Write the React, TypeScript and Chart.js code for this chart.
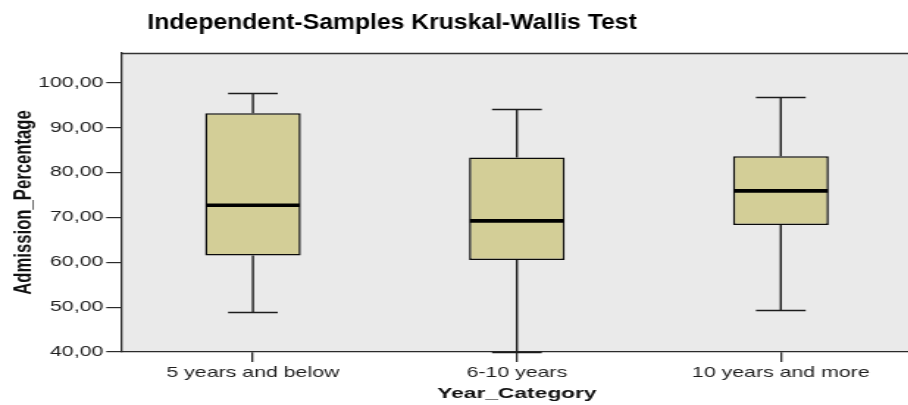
import React, { useEffect, useRef } from 'react';
import { Chart, registerables } from 'chart.js';

Chart.register(...registerables);

// ---- data ----
const categories = ['5 years and below', '6-10 years', '10 years and more'];
const minValues = [49.0, 40.0, 49.3];
const q1Values = [61.5, 60.5, 68.3];
const medianValues = [72.7, 69.2, 75.9];
const q3Values = [93.2, 83.3, 83.6];
const maxValues = [97.7, 94.1, 96.7];
const yTickValues = [40, 50, 60, 70, 80, 90, 100];
const yMin = 40;
const yMax = 106.6;
const chartTitle = 'Independent-Samples Kruskal-Wallis Test';
const xTitle = 'Year_Category';
const yTitle = 'Admission_Percentage';

// ---- layout / style ----
const STRETCH = 1.47; // the reference is horizontally stretched
const VIEW_W = 920;
const VIEW_H = 405;
const LOGICAL_W = Math.round(VIEW_W / STRETCH);
const FONT = "'Liberation Sans', Arial, Helvetica, sans-serif";

const boxPlotPlugin = {
  id: 'boxPlotExtras',
  beforeDraw(chart: any) {
    const { ctx, chartArea } = chart;
    ctx.save();
    ctx.fillStyle = '#eaeaea';
    ctx.fillRect(chartArea.left, chartArea.top, chartArea.right - chartArea.left, chartArea.bottom - chartArea.top);
    ctx.strokeStyle = '#333333';
    ctx.lineWidth = 1.3;
    ctx.beginPath();
    const ty = Math.round(chartArea.top) + 0.5;
    ctx.moveTo(chartArea.left, ty);
    ctx.lineTo(chartArea.right, ty);
    ctx.stroke();
    ctx.restore();
  },
  afterDatasetsDraw(chart: any) {
    const { ctx, scales } = chart;
    const y = scales.y;
    const meta = chart.getDatasetMeta(0);
    const line = (x1: number, y1: number, x2: number, y2: number) => {
      ctx.beginPath();
      ctx.moveTo(x1, y1);
      ctx.lineTo(x2, y2);
      ctx.stroke();
    };
    const snap = (v: number) => Math.round(v) + 0.5;
    ctx.save();
    categories.forEach((_, i) => {
      const bar = meta.data[i];
      const cx = bar.x;
      const half = bar.width / 2;
      const capHalf = half * 0.52;
      const yMaxP = snap(y.getPixelForValue(maxValues[i]));
      const yQ3 = y.getPixelForValue(q3Values[i]);
      const yQ1 = y.getPixelForValue(q1Values[i]);
      const yMinP = snap(y.getPixelForValue(minValues[i]));
      ctx.strokeStyle = '#1c1c1c';
      ctx.lineWidth = 1.4;
      line(cx, yQ3, cx, yMaxP);
      line(cx - capHalf, yMaxP, cx + capHalf, yMaxP);
      line(cx, yQ1, cx, yMinP);
      line(cx - capHalf, yMinP, cx + capHalf, yMinP);
      ctx.strokeStyle = '#000';
      ctx.lineWidth = 3.6;
      const yMed = y.getPixelForValue(medianValues[i]);
      line(cx - half + 0.7, yMed, cx + half - 0.7, yMed);
    });
    ctx.restore();
  },
  afterDraw(chart: any) {
    const { ctx, chartArea } = chart;
    ctx.save();
    ctx.font = `bold 22px ${FONT}`;
    ctx.fillStyle = '#000';
    ctx.textBaseline = 'middle';
    ctx.textAlign = 'left';
    ctx.translate(chartArea.left + 18, 23);
    ctx.scale(0.765, 1);
    ctx.fillText(chartTitle, 0, 0);
    ctx.restore();
  },
};

export default function App() {
  const canvasRef = useRef<HTMLCanvasElement | null>(null);

  useEffect(() => {
    document.body.style.margin = '0';
    const canvas = canvasRef.current;
    if (!canvas) return;
    const chart = new Chart(canvas, {
      type: 'bar',
      data: {
        labels: categories,
        datasets: [
          {
            data: categories.map((_, i) => [q1Values[i], q3Values[i]]) as any,
            backgroundColor: '#d3ce97',
            borderColor: '#0a0a0a',
            borderWidth: 1.5,
            borderSkipped: false,
            barPercentage: 0.3625,
            categoryPercentage: 1,
          },
        ],
      },
      options: {
        responsive: false,
        animation: false,
        devicePixelRatio: 1,
        layout: { padding: { top: 53, right: LOGICAL_W - 621.1, left: 0, bottom: 0 } },
        plugins: {
          legend: { display: false },
          tooltip: { enabled: false },
          title: { display: false },
        },
        scales: {
          x: {
            type: 'category',
            offset: true,
            grid: {
              display: true,
              offset: false,
              drawOnChartArea: false,
              drawTicks: true,
              tickLength: 10,
              color: '#2a2a2a',
              lineWidth: 1.3,
            },
            border: { display: true, color: '#2a2a2a', width: 1.3 },
            ticks: {
              color: '#1e1e1e',
              font: { family: FONT, size: 14.5 },
              padding: 2,
              maxRotation: 0,
              autoSkip: false,
            },
            title: {
              display: true,
              text: xTitle,
              color: '#111111',
              font: { family: FONT, size: 15.5, weight: 'bold' },
              padding: { top: 0, bottom: 2 },
            },
            afterFit: (scale: any) => {
              scale.height = 53;
            },
          },
          y: {
            type: 'linear',
            min: yMin,
            max: yMax,
            afterBuildTicks: (scale: any) => {
              scale.ticks = yTickValues.map((v) => ({ value: v }));
            },
            grid: {
              display: true,
              drawOnChartArea: false,
              drawTicks: true,
              tickLength: 10,
              color: '#2a2a2a',
              lineWidth: 1.2,
            },
            border: { display: true, color: '#2a2a2a', width: 1.3 },
            ticks: {
              color: '#1e1e1e',
              font: { family: FONT, size: 14.5 },
              padding: 2,
              callback: (v: any) => Number(v).toFixed(2).replace('.', ','),
            },
            title: {
              display: true,
              text: yTitle,
              color: '#111111',
              font: { family: FONT, size: 16.7, weight: 'bold' },
              padding: { top: 6, bottom: 0 },
            },
            afterFit: (scale: any) => {
              scale.width = 82.3;
            },
          },
        },
      },
      plugins: [boxPlotPlugin],
    } as any);
    return () => chart.destroy();
  }, []);

  return (
    <div style={{ width: 908, height: VIEW_H, overflow: 'hidden', background: '#fff' }}>
      <canvas
        ref={canvasRef}
        width={LOGICAL_W}
        height={VIEW_H}
        style={{ width: `${VIEW_W}px`, height: `${VIEW_H}px`, display: 'block' }}
      />
    </div>
  );
}
